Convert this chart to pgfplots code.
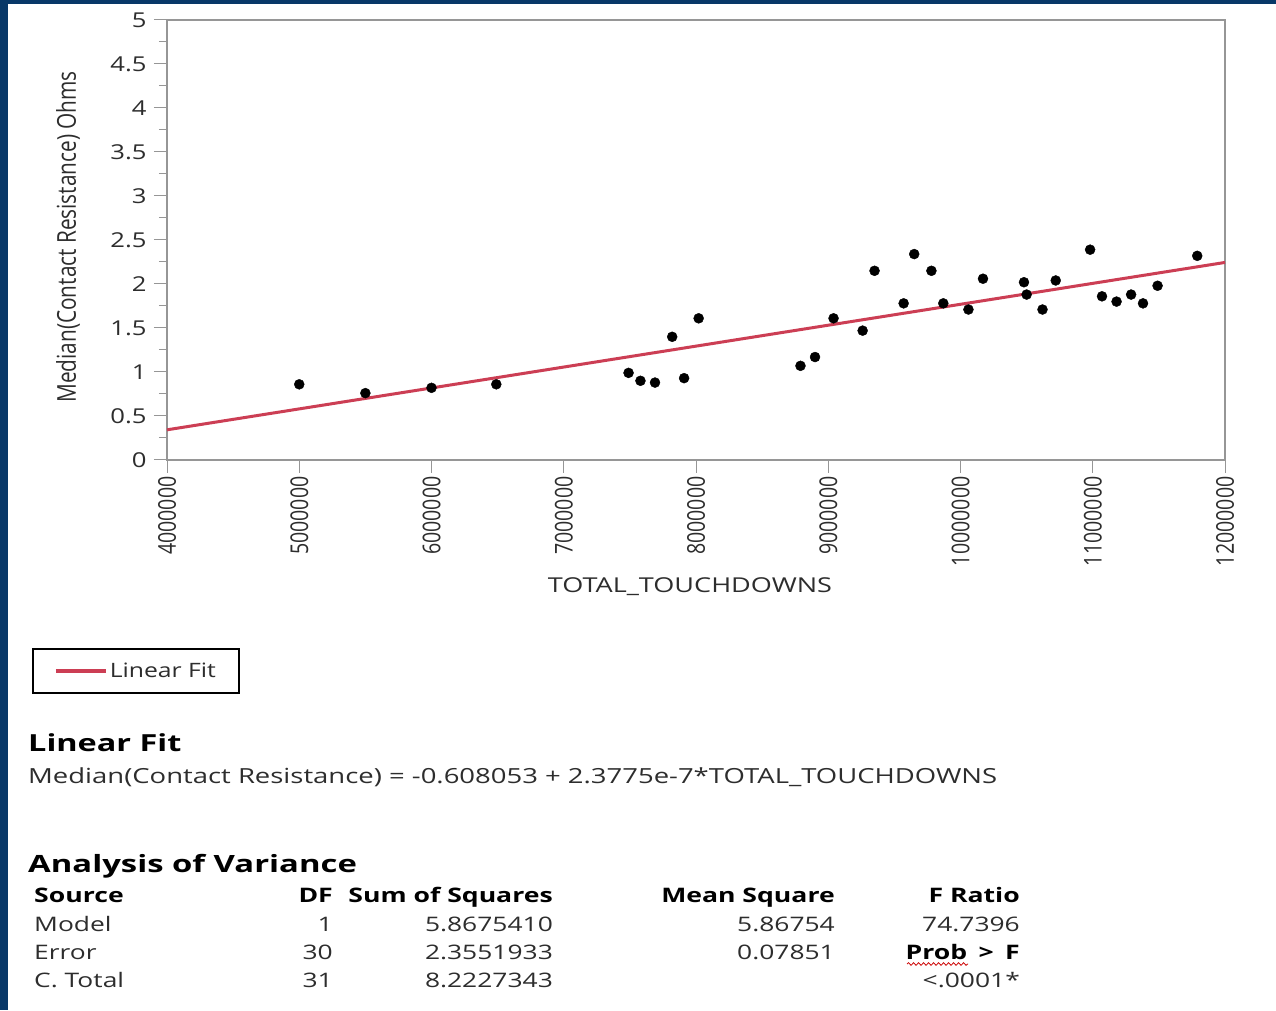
\documentclass[border=0pt]{standalone}
\usepackage{fontspec}
\setmainfont{Open Sans}
\newfontfamily\hf[FakeStretch=1.25]{Open Sans}
\newfontfamily\hfw[FakeStretch=1.32]{Open Sans}
\newfontfamily\hb[FakeStretch=1.33]{Open Sans}
\newfontfamily\hbh[FakeStretch=1.38]{Open Sans}
\newfontfamily\vf[FakeStretch=0.8]{Open Sans}
\usepackage{pgfplots}
\pgfplotsset{compat=1.18}
\usetikzlibrary{decorations.pathmorphing}
\definecolor{slideblue}{RGB}{8,56,104}
\definecolor{fitred}{RGB}{204,62,84}
\definecolor{axgray}{RGB}{150,150,150}
\definecolor{txt}{RGB}{45,45,45}
\begin{document}
\begin{tikzpicture}[x=1pt,y=1pt]
\useasboundingbox (0,0) rectangle (1276,1010);
\fill[slideblue] (0,0) rectangle (1276,1010);
\fill[white] (8,0) rectangle (1276,1006);
\begin{axis}[
  at={(167pt,550pt)}, anchor=south west,
  scale only axis, width=1058pt, height=440pt,
  xmin=4000000, xmax=12000000, ymin=0, ymax=5,
  scaled x ticks=false, scaled y ticks=false,
  xtick={4000000,5000000,6000000,7000000,8000000,9000000,10000000,11000000,12000000},
  xticklabels={4000000,5000000,6000000,7000000,8000000,9000000,10000000,11000000,12000000},
  ytick={0,0.5,1,1.5,2,2.5,3,3.5,4,4.5,5},
  yticklabels={0,0.5,1,1.5,2,2.5,3,3.5,4,4.5,5},
  minor ytick={0.25,0.75,1.25,1.75,2.25,2.75,3.25,3.75,4.25,4.75},
  xtick pos=lower, ytick pos=left,
  tick align=outside, major tick length=13pt, minor tick length=8pt,
  axis line style={axgray, line width=1.2pt},
  every tick/.style={axgray, line width=1pt},
  xticklabel style={font=\vf\fontsize{24.5}{24.5}\selectfont, rotate=90, anchor=east, text=txt},
  yticklabel style={font=\hf\fontsize{20.5}{20.5}\selectfont, text=txt, xshift=-4pt},
  xlabel={TOTAL\_TOUCHDOWNS},
  ylabel={Median(Contact Resistance) Ohms},
  every axis x label/.style={at={(axis description cs:0.4943,-0.2886)}, anchor=center, font=\hfw\fontsize{20.5}{20.5}\selectfont, text=txt},
  every axis y label/.style={at={(axis description cs:-0.0936,0.507)}, rotate=90, anchor=center, font=\vf\fontsize{26}{26}\selectfont, text=txt},
  legend style={at={(axis description cs:-0.1276,-0.4273)}, anchor=north west, draw=black, line width=1.5pt, fill=white,
    inner xsep=21pt, inner ysep=12pt, font=\hf\fontsize{19.8}{19.8}\selectfont, text=txt},
  legend image code/.code={\draw[#1, line width=4pt] (0pt,0pt) -- (50pt,0pt);},
  clip=false,
]
\addplot[only marks, mark=*, mark size=5pt, black, forget plot] coordinates {
(5000000,0.86) (5500000,0.76) (6000000,0.82) (6490000,0.86)
(7490000,0.99) (7580000,0.90) (7690000,0.88) (7910000,0.93)
(7820000,1.40) (8020000,1.61) (8790000,1.07) (8900000,1.17)
(9040000,1.61) (9260000,1.47) (9350000,2.15) (9570000,1.78)
(9650000,2.34) (9780000,2.15) (9870000,1.78) (10060000,1.71)
(10170000,2.06) (10480000,2.02) (10500000,1.88) (10620000,1.71)
(10720000,2.04) (10980000,2.39) (11070000,1.86) (11180000,1.80)
(11290000,1.88) (11380000,1.78) (11490000,1.98) (11790000,2.32)
};
\addplot[fitred, line width=3pt] coordinates {(4000000,0.342947) (12000000,2.244947)};
\addlegendentry{Linear Fit}
\end{axis}
\begin{scope}[every node/.style={inner sep=0pt, text=txt, font=\hfw\fontsize{20}{20}\selectfont}]
\node[anchor=base west, text=black, font=\hbh\bfseries\fontsize{23.5}{23.5}\selectfont] at (28,259) {Linear Fit};
\node[anchor=base west, font=\hfw\fontsize{20.8}{20.8}\selectfont] at (28,227) {Median(Contact Resistance) = -0.608053 + 2.3775e-7*TOTAL\_TOUCHDOWNS};
\node[anchor=base west, text=black, font=\hbh\bfseries\fontsize{23.8}{23.8}\selectfont] at (28,138) {Analysis of Variance};
\begin{scope}[every node/.append style={text=black, font=\hb\bfseries\fontsize{20}{20}\selectfont}]
\node[anchor=base west] at (34,108) {Source};
\node[anchor=base east] at (333,108) {DF};
\node[anchor=base east] at (553,108) {Sum of Squares};
\node[anchor=base east] at (835,108) {Mean Square};
\node[anchor=base east] at (1020,108) {F Ratio};
\node[anchor=base east] at (1020,51) {Prob\hspace{4.5pt} >\hspace{4.5pt} F};
\end{scope}
\node[anchor=base west] at (34,79) {Model};
\node[anchor=base east] at (333,79) {1};
\node[anchor=base east] at (553,79) {5.8675410};
\node[anchor=base east] at (835,79) {5.86754};
\node[anchor=base east] at (1020,79) {74.7396};
\node[anchor=base west] at (34,51) {Error};
\node[anchor=base east] at (333,51) {30};
\node[anchor=base east] at (553,51) {2.3551933};
\node[anchor=base east] at (835,51) {0.07851};
\node[anchor=base west] at (34,23) {C. Total};
\node[anchor=base east] at (333,23) {31};
\node[anchor=base east] at (553,23) {8.2227343};
\node[anchor=base east] at (1020,23) {<.0001*};
\end{scope}
\draw[red!80!black, line width=0.8pt, decorate, decoration={snake, amplitude=1.3pt, segment length=5pt}] (907,46) -- (968,46);
\end{tikzpicture}
\end{document}
